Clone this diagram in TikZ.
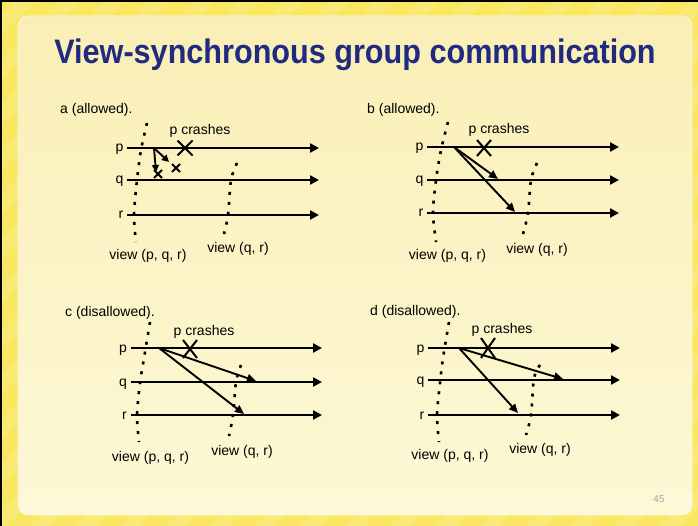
\documentclass[tikz,border=0pt]{standalone}
\usepackage{fontspec}
\setmainfont{Liberation Sans}
\usetikzlibrary{arrows.meta,calc}
\definecolor{outeryellow}{RGB}{249,231,98}
\definecolor{innerA}{RGB}{249,239,182}
\definecolor{innerB}{RGB}{253,248,214}
\definecolor{titleblue}{RGB}{32,42,128}
\definecolor{pagegray}{RGB}{165,165,170}
\begin{document}
\begin{tikzpicture}[x=1pt,y=-1pt,
  tl/.style={line width=2.3pt,-{Triangle[length=9pt,width=9pt]}},
  msg/.style={line width=1.9pt,-{Triangle[length=9pt,width=8pt]}},
  smallmsg/.style={line width=1.9pt,-{Triangle[length=7pt,width=7pt]}},
  viewline/.style={line width=2.6pt,dash pattern=on 3pt off 7pt},
  lbl/.style={font=\fontsize{14}{16}\selectfont, inner sep=0pt},
  crash/.style={line width=2pt},
  smallx/.style={line width=1.8pt}
]
\useasboundingbox (0,0) rectangle (698,526);
% background frame
\fill[outeryellow] (0,0) rectangle (698,526);
\begin{scope}
  \clip (0,0) rectangle (698,526);
  \foreach \i in {-600,-555,...,720}
    \fill[white,opacity=0.13] (\i,526) -- (\i+20,526) -- (\i+546,0) -- (\i+526,0) -- cycle;
\end{scope}
\fill[black] (0,0) rectangle (698,2);
\fill[black] (0,0) rectangle (2,526);
\shade[top color=innerA, bottom color=innerB, rounded corners=10pt, draw=white!50!innerA, line width=0.8pt] (18,16) rectangle (692,515);

% title
\node[font=\bfseries\fontsize{34}{40}\selectfont, text=titleblue, anchor=base, inner sep=0pt] (title) at (355,64) {\scalebox{0.9}[1]{View-synchronous group communication}};

% ---------------- panel a ----------------
\node[lbl,anchor=west] (alab) at (60,110) {a (allowed).};
\node[lbl,anchor=base east] (ap) at (123.5,152) {p};
\node[lbl,anchor=base east] (aq) at (123.5,184) {q};
\node[lbl,anchor=base east] (ar) at (123.5,219) {r};
\coordinate (ap0) at (127,148); \coordinate (ap1) at (319,148);
\coordinate (aq0) at (127,180); \coordinate (aq1) at (319,180);
\coordinate (ar0) at (127,215); \coordinate (ar1) at (319,215);
\draw[tl] (ap0) -- (ap1);
\draw[tl] (aq0) -- (aq1);
\draw[tl] (ar0) -- (ar1);
\draw[viewline] plot[smooth] coordinates {(147,123) (141,150) (137,180) (134,215) (136,242)};
\draw[viewline] plot[smooth] coordinates {(237,163) (231,180) (228,215) (224,234)};
\node[lbl] (acr) at (200,131) {p crashes};
\coordinate (aX) at (185,148);
\draw[crash] ($(aX)+(-7.5,-7.5)$) -- ($(aX)+(7.5,7.5)$);
\draw[crash] ($(aX)+(-7.5,7.5)$) -- ($(aX)+(7.5,-7.5)$);
\coordinate (am0) at (154,148);
\coordinate (am1) at (156,172);
\coordinate (am2) at (169,162);
\draw[smallmsg] (am0) -- (am1);
\draw[smallmsg] (am0) -- (am2);
\coordinate (ax1) at (158,174);
\coordinate (ax2) at (176,168);
\draw[smallx] ($(ax1)+(-4,-4)$) -- ($(ax1)+(4,4)$);
\draw[smallx] ($(ax1)+(-4,4)$) -- ($(ax1)+(4,-4)$);
\draw[smallx] ($(ax2)+(-4,-4)$) -- ($(ax2)+(4,4)$);
\draw[smallx] ($(ax2)+(-4,4)$) -- ($(ax2)+(4,-4)$);
\node[lbl] (av1) at (148,256) {view (p, q, r)};
\node[lbl] (av2) at (238,249) {view (q, r)};

% ---------------- panel b ----------------
\node[lbl,anchor=west] (blab) at (367,110) {b (allowed).};
\node[lbl,anchor=base east] (bp) at (423.5,151) {p};
\node[lbl,anchor=base east] (bq) at (423.5,184) {q};
\node[lbl,anchor=base east] (br) at (423.5,217) {r};
\coordinate (bp0) at (427,147); \coordinate (bp1) at (619,147);
\coordinate (bq0) at (427,180); \coordinate (bq1) at (619,180);
\coordinate (br0) at (427,213); \coordinate (br1) at (619,213);
\draw[tl] (bp0) -- (bp1);
\draw[tl] (bq0) -- (bq1);
\draw[tl] (br0) -- (br1);
\draw[viewline] plot[smooth] coordinates {(448,122) (441,150) (436,180) (433,213) (436,242)};
\draw[viewline] plot[smooth] coordinates {(537,163) (531,180) (528,213) (523,234)};
\node[lbl] (bcr) at (499,130) {p crashes};
\coordinate (bX) at (484,148);
\draw[crash] ($(bX)+(-7,-8)$) -- ($(bX)+(7,8)$);
\draw[crash] ($(bX)+(-7,8)$) -- ($(bX)+(7,-8)$);
\coordinate (bm0) at (454,147);
\coordinate (bm1) at (498,179);
\coordinate (bm2) at (515,212);
\draw[msg] (bm0) -- (bm1);
\draw[msg] (bm0) -- (bm2);
\node[lbl] (bv1) at (447.5,256) {view (p, q, r)};
\node[lbl] (bv2) at (537,250) {view (q, r)};

% ---------------- panel c ----------------
\node[lbl,anchor=west] (clab) at (65,313) {c (disallowed).};
\node[lbl,anchor=base east] (cp) at (127,352) {p};
\node[lbl,anchor=base east] (cq) at (127,386) {q};
\node[lbl,anchor=base east] (cr) at (127,419) {r};
\coordinate (cp0) at (131,348); \coordinate (cp1) at (322,348);
\coordinate (cq0) at (131,382); \coordinate (cq1) at (322,382);
\coordinate (cr0) at (131,415); \coordinate (cr1) at (322,415);
\draw[tl] (cp0) -- (cp1);
\draw[tl] (cq0) -- (cq1);
\draw[tl] (cr0) -- (cr1);
\draw[viewline] plot[smooth] coordinates {(150,322) (144,358) (140,383) (137,415) (139,442)};
\draw[viewline] plot[smooth] coordinates {(241,365) (236,382) (233,415) (229,436)};
\node[lbl] (ccr) at (204,332) {p crashes};
\coordinate (cX) at (190,349);
\draw[crash] ($(cX)+(-7,-9)$) -- ($(cX)+(7,9)$);
\draw[crash] ($(cX)+(-7,9)$) -- ($(cX)+(7,-9)$);
\coordinate (cm0) at (159,348);
\coordinate (cm1) at (256,381);
\coordinate (cm2) at (244,414);
\draw[msg] (cm0) -- (cm1);
\draw[msg] (cm0) -- (cm2);
\node[lbl] (cv1) at (150.5,458) {view (p, q, r)};
\node[lbl] (cv2) at (242,452) {view (q, r)};

% ---------------- panel d ----------------
\node[lbl,anchor=west] (dlab) at (370,312) {d (disallowed).};
\node[lbl,anchor=base east] (dp) at (424.5,352) {p};
\node[lbl,anchor=base east] (dq) at (424.5,384) {q};
\node[lbl,anchor=base east] (dr) at (424.5,419) {r};
\coordinate (dp0) at (428,348); \coordinate (dp1) at (620,348);
\coordinate (dq0) at (428,380); \coordinate (dq1) at (620,380);
\coordinate (dr0) at (428,415); \coordinate (dr1) at (620,415);
\draw[tl] (dp0) -- (dp1);
\draw[tl] (dq0) -- (dq1);
\draw[tl] (dr0) -- (dr1);
\draw[viewline] plot[smooth] coordinates {(449,322) (443,358) (440,383) (437,415) (439,442)};
\draw[viewline] plot[smooth] coordinates {(540,365) (534,378) (531,415) (526,435)};
\node[lbl] (dcr) at (502,330) {p crashes};
\coordinate (dX) at (488,348);
\draw[crash] ($(dX)+(-7,-10)$) -- ($(dX)+(7,10)$);
\draw[crash] ($(dX)+(-7,10)$) -- ($(dX)+(7,-10)$);
\coordinate (dm0) at (459,348);
\coordinate (dm1) at (563,379);
\coordinate (dm2) at (518,413);
\draw[msg] (dm0) -- (dm1);
\draw[msg] (dm0) -- (dm2);
\node[lbl] (dv1) at (450,456) {view (p, q, r)};
\node[lbl] (dv2) at (540,450) {view (q, r)};

% page number
\node[font=\fontsize{10}{12}\selectfont, text=pagegray, inner sep=0pt] (pnum) at (659,499) {45};
\end{tikzpicture}
\end{document}
